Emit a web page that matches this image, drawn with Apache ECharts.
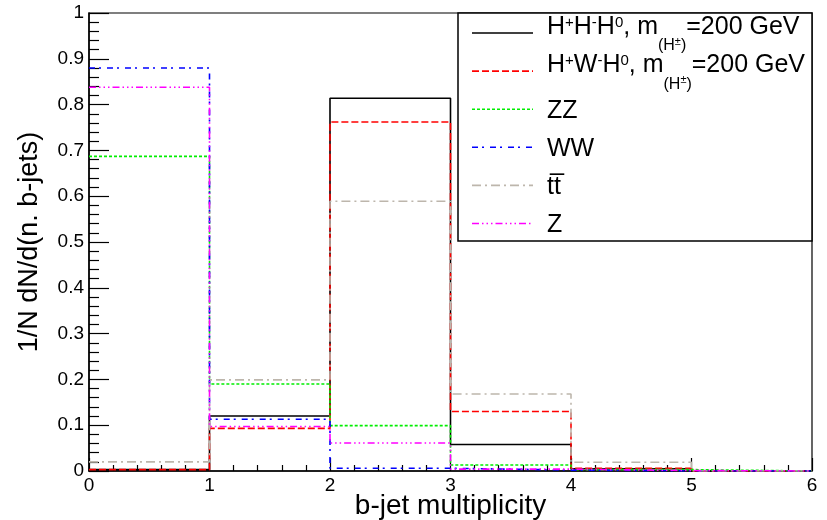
<!DOCTYPE html>
<html>
<head>
<meta charset="utf-8">
<script src="https://cdn.jsdelivr.net/npm/echarts@6/dist/echarts.min.js"></script>
<style>
  html, body { margin: 0; padding: 0; background: #fff; }
  #chart { width: 827px; height: 520px; }
</style>
</head>
<body>
<div id="chart"></div>
<script>
// b-jet multiplicity bins (edges 0..6), normalised histograms
const binEdges = [0, 1, 2, 3, 4, 5, 6];
const hpHmH0 = [0.003, 0.120, 0.814, 0.058, 0.005, 0.000];
const hpWmH0 = [0.003, 0.093, 0.762, 0.130, 0.006, 0.000];
const zz     = [0.687, 0.190, 0.099, 0.013, 0.003, 0.000];
const ww     = [0.880, 0.113, 0.006, 0.002, 0.000, 0.000];
const ttbar  = [0.020, 0.199, 0.589, 0.168, 0.019, 0.000];
const zjets  = [0.838, 0.097, 0.061, 0.004, 0.001, 0.000];

const xTicks = [0, 1, 2, 3, 4, 5, 6];
const yTickLabels = ['0', '0.1', '0.2', '0.3', '0.4', '0.5', '0.6', '0.7', '0.8', '0.9', '1'];

const FONT = "'Liberation Sans', Arial, Helvetica, sans-serif";

// line styles for each histogram (ROOT-like dash patterns)
const styles = [
  { name: 'HHH', data: hpHmH0, color: '#000000', dash: 'solid' },
  { name: 'HWH', data: hpWmH0, color: '#ff0000', dash: [7, 3] },
  { name: 'ZZ',  data: zz,     color: '#00ee00', dash: [3, 2] },
  { name: 'WW',  data: ww,     color: '#0000ff', dash: [6, 4, 2, 6] },
  { name: 'tt',  data: ttbar,  color: '#bdb6ac', dash: [9, 4, 2, 4] },
  { name: 'Z',   data: zjets,  color: '#ff00ff', dash: [7, 3, 1.5, 3, 1.5, 3, 1.5, 3] }
];

// histogram as a step line: each bin held flat until the next edge
function histPoints(values) {
  const pts = values.map((v, i) => [binEdges[i], v]);
  pts.push([binEdges[binEdges.length - 1], values[values.length - 1]]);
  return pts;
}

const series = styles.map(s => ({
  name: s.name,
  type: 'line',
  step: 'end',
  symbol: 'none',
  silent: true,
  animation: false,
  data: histPoints(s.data),
  lineStyle: { color: s.color, width: 1.6, type: s.dash }
}));

// legend rows
const legendTexts = [
  '{m|H}{sp|+}{m|H}{sp|-}{m|H}{sp|0}{m|, m}{sb|(H}{sbs|±}{sb|)}{m|=200 GeV}',
  '{m|H}{sp|+}{m|W}{sp|-}{m|H}{sp|0}{m|, m}{sb|(H}{sbs|±}{sb|)}{m|=200 GeV}',
  '{m|ZZ}',
  '{m|WW}',
  '{m|tt\u0305}',
  '{m|Z}'
];
const hasSub = [true, true, false, false, false, false];

const rich = {
  m:   { fontSize: 25, fontFamily: FONT, color: '#000', verticalAlign: 'top', padding: [0, 0, 0, 0] },
  sp:  { fontSize: 15, fontFamily: FONT, color: '#000', verticalAlign: 'top', padding: [0, 0, 0, 0] },
  sb:  { fontSize: 16, fontFamily: FONT, color: '#000', verticalAlign: 'top', padding: [23, 0, 0, 0] },
  sbs: { fontSize: 11, fontFamily: FONT, color: '#000', verticalAlign: 'top', padding: [21, 0, 0, 0] }
};

const legendChildren = [{
  type: 'rect',
  shape: { x: 458, y: 13, width: 354, height: 228 },
  style: { fill: '#fff', stroke: '#000', lineWidth: 1.5 }
}];
styles.forEach((s, i) => {
  const ly = 33 + 38.1 * i;
  legendChildren.push({
    type: 'line',
    shape: { x1: 472, y1: ly, x2: 533, y2: ly },
    style: { stroke: s.color, lineWidth: 1.6, lineDash: s.dash === 'solid' ? null : s.dash }
  });
  legendChildren.push({
    type: 'text',
    x: 547,
    y: hasSub[i] ? ly - 18 : ly - 10.5,
    style: {
      text: legendTexts[i],
      rich: rich,
      verticalAlign: 'top',
      align: 'left',
      font: '25px ' + FONT
    }
  });
});

const chart = echarts.init(document.getElementById('chart'), null, { renderer: 'canvas' });
chart.setOption({
  backgroundColor: '#fff',
  animation: false,
  grid: {
    left: 89, right: 15, top: 13, bottom: 49,
    outerBoundsMode: 'none', containLabel: false,
    show: true, borderColor: '#000', borderWidth: 1.2, backgroundColor: 'transparent'
  },
  xAxis: {
    type: 'value', min: xTicks[0], max: xTicks[xTicks.length - 1], interval: 1,
    name: 'b-jet multiplicity', nameLocation: 'middle', nameGap: 21, nameMoveOverlap: false,
    nameTextStyle: { fontSize: 28, fontFamily: FONT, color: '#000' },
    axisLine: { show: true, onZero: false, lineStyle: { color: '#000', width: 1.5 } },
    axisTick: { show: true, inside: true, length: 13, lineStyle: { color: '#000', width: 1.2 } },
    minorTick: { show: true, splitNumber: 5, length: 6, lineStyle: { color: '#000', width: 1.2 } },
    axisLabel: { fontSize: 19, fontFamily: FONT, color: '#000', margin: 5 },
    splitLine: { show: false }
  },
  yAxis: {
    type: 'value', min: 0, max: 1, interval: 0.1,
    name: '1/N dN/d(n. b-jets)', nameLocation: 'middle', nameGap: 46, nameRotate: 90, nameMoveOverlap: false,
    nameTextStyle: { fontSize: 27, fontFamily: FONT, color: '#000' },
    axisLine: { show: true, onZero: false, lineStyle: { color: '#000', width: 1.5 } },
    axisTick: { show: true, inside: true, length: 20, lineStyle: { color: '#000', width: 1.2 } },
    minorTick: { show: true, splitNumber: 5, length: 10, lineStyle: { color: '#000', width: 1.2 } },
    axisLabel: {
      fontSize: 19, fontFamily: FONT, color: '#000', margin: 5,
      formatter: v => yTickLabels[Math.round(v * 10)]
    },
    splitLine: { show: false }
  },
  series: series,
  graphic: [{ type: 'group', z: 100, children: legendChildren }]
});
</script>
</body>
</html>
